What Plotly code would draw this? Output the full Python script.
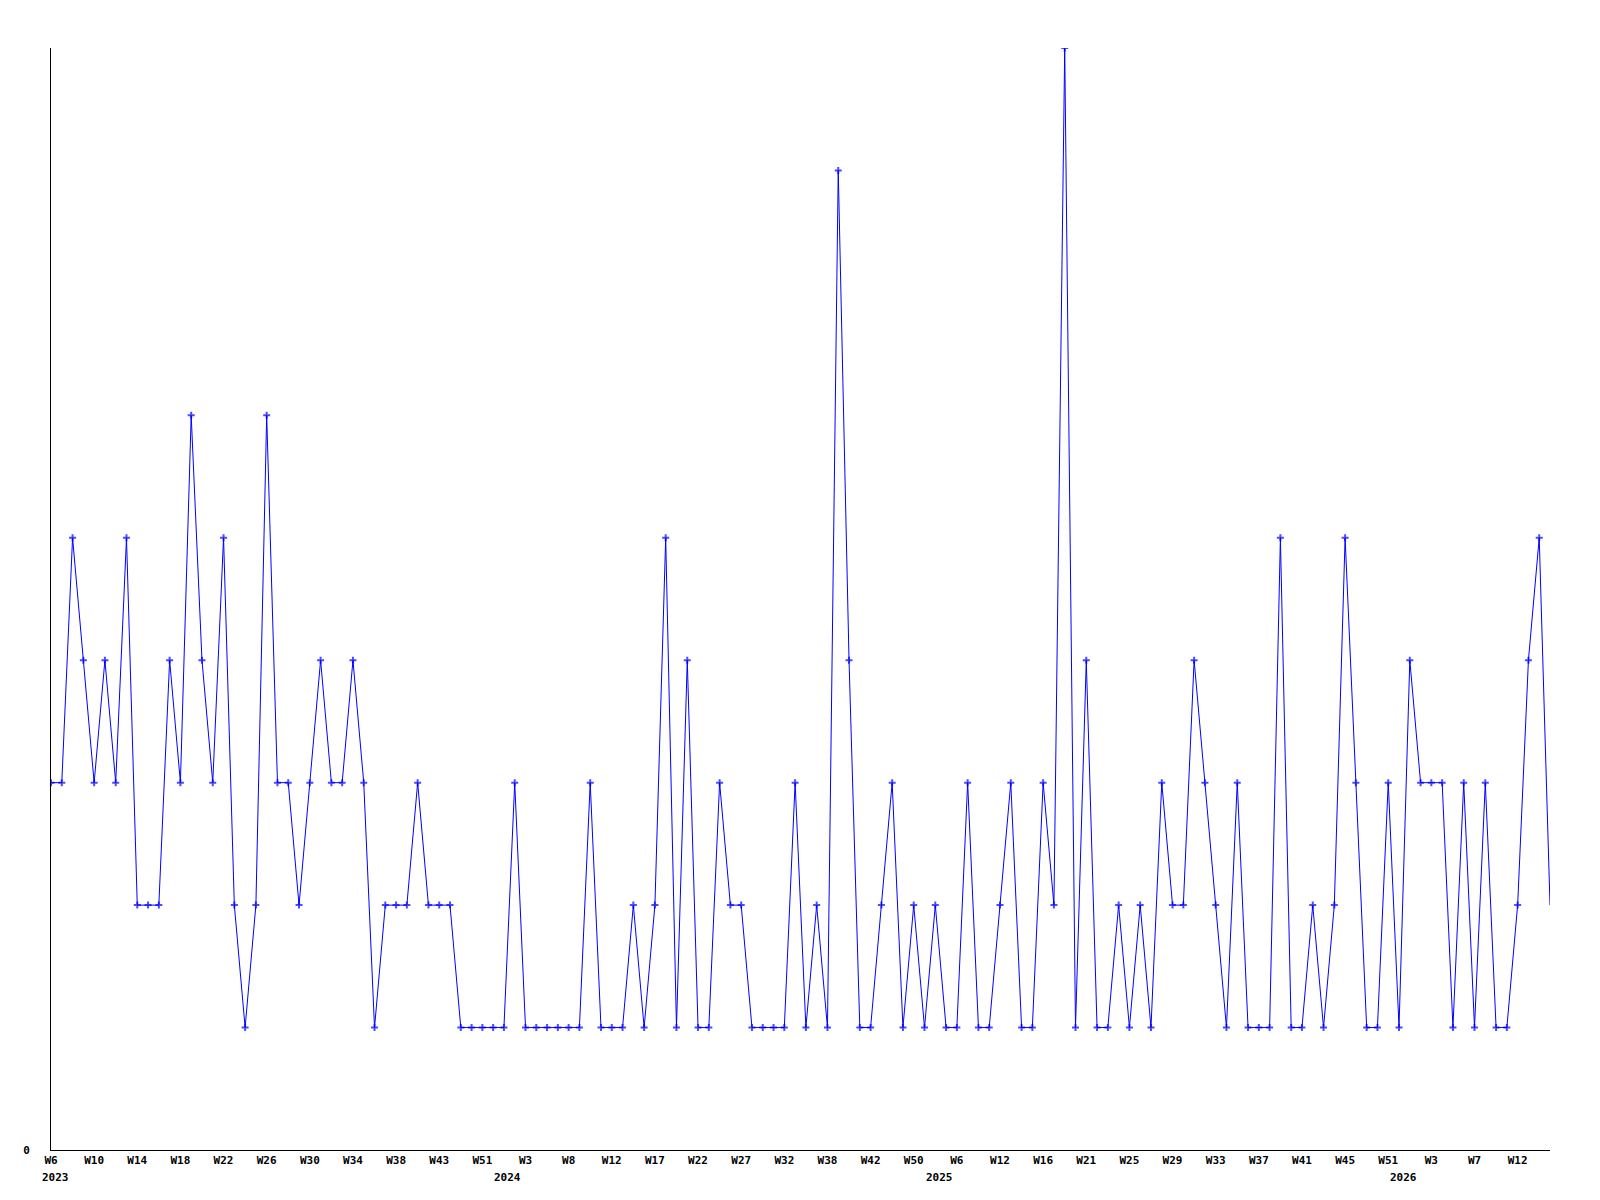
import plotly.graph_objects as go

# Weekly counts, in order of the weeks shown on the x axis
values = [3, 3, 5, 4, 3, 4, 3, 5, 2, 2,
          2, 4, 3, 6, 4, 3, 5, 2, 1, 2,
          6, 3, 3, 2, 3, 4, 3, 3, 4, 3,
          1, 2, 2, 2, 3, 2, 2, 2, 1, 1,
          1, 1, 1, 3, 1, 1, 1, 1, 1, 1,
          3, 1, 1, 1, 2, 1, 2, 5, 1, 4,
          1, 1, 3, 2, 2, 1, 1, 1, 1, 3,
          1, 2, 1, 8, 4, 1, 1, 2, 3, 1,
          2, 1, 2, 1, 1, 3, 1, 1, 2, 3,
          1, 1, 3, 2, 9, 1, 4, 1, 1, 2,
          1, 2, 1, 3, 2, 2, 4, 3, 2, 1,
          3, 1, 1, 1, 5, 1, 1, 2, 1, 2,
          5, 3, 1, 1, 3, 1, 4, 3, 3, 3,
          1, 3, 1, 3, 1, 1, 2, 4, 5, 2]

tick_labels = ["W6", "W10", "W14", "W18", "W22", "W26", "W30", "W34", "W38", "W43",
               "W51", "W3", "W8", "W12", "W17", "W22", "W27", "W32", "W38", "W42",
               "W50", "W6", "W12", "W16", "W21", "W25", "W29", "W33", "W37", "W41",
               "W45", "W51", "W3", "W7", "W12"]
tick_step = 4

years = ["2023", "2024", "2025", "2026"]
year_positions = [0, 42, 82, 125]

x = list(range(len(values)))
tick_vals = [i * tick_step for i in range(len(tick_labels))]
marker_sizes = [5] * (len(values) - 1) + [0]

font = dict(family="DejaVu Sans Mono", size=11, color="black", weight="bold")

fig = go.Figure()
fig.add_trace(go.Scatter(
    x=x, y=values, mode="lines+markers",
    line=dict(color="#0000ff", width=1),
    marker=dict(symbol="cross-thin", size=marker_sizes,
                color="#0000ff", line=dict(width=2, color="#0000ff")),
    showlegend=False, hoverinfo="x+y",
))

for yr, pos in zip(years, year_positions):
    fig.add_annotation(x=pos, y=0, xref="x", yref="paper", text=yr,
                       showarrow=False, yshift=-27, xshift=4, yanchor="middle",
                       xanchor="center", font=font)

W, H = 1584, 1184
fig.update_layout(
    width=W, height=H,
    margin=dict(l=43, r=42, t=40, b=42, pad=0),
    paper_bgcolor="white", plot_bgcolor="white",
    font=font,
    xaxis=dict(range=[0, len(values) - 1], tickvals=tick_vals, ticktext=tick_labels,
               showgrid=False, zeroline=False, showline=True, linecolor="black",
               linewidth=1, ticks="", tickfont=font, tickangle=0),
    yaxis=dict(range=[0, 9], tickvals=[0], ticktext=["0"], showgrid=False,
               zeroline=False, showline=True, linecolor="black", linewidth=1,
               ticks="", tickfont=font, ticklabelstandoff=18),
)

fig.write_html("out.html")
